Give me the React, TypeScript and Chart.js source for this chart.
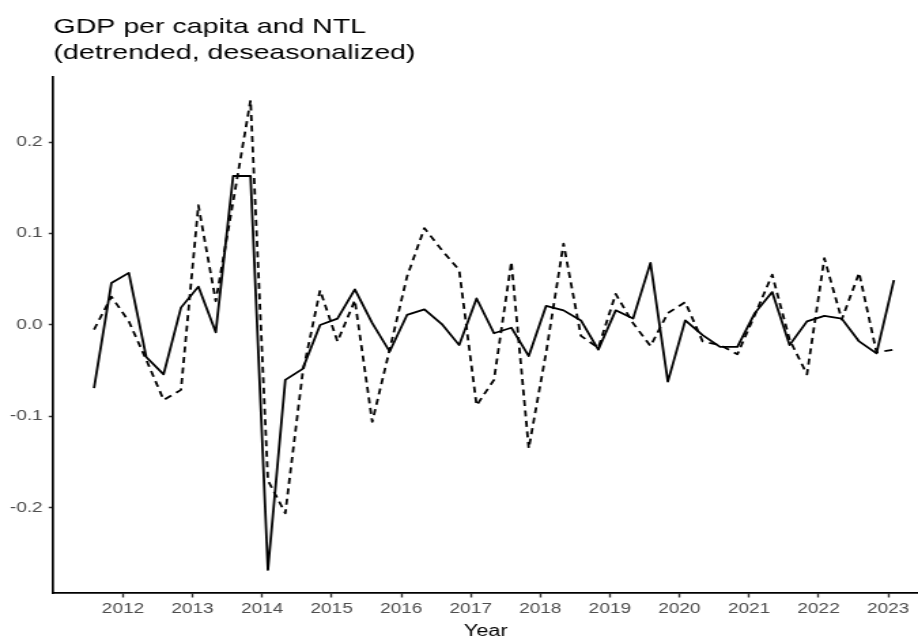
import React, { useEffect, useRef } from 'react';
import { Chart, registerables } from 'chart.js';

Chart.register(...registerables);

// ---- data ----
const DATES: string[] = [
  '2011-08', '2011-11',
  '2012-02', '2012-05', '2012-08', '2012-11',
  '2013-02', '2013-05', '2013-08', '2013-11',
  '2014-02', '2014-05', '2014-08', '2014-11',
  '2015-02', '2015-05', '2015-08', '2015-11',
  '2016-02', '2016-05', '2016-08', '2016-11',
  '2017-02', '2017-05', '2017-08', '2017-11',
  '2018-02', '2018-05', '2018-08', '2018-11',
  '2019-02', '2019-05', '2019-08', '2019-11',
  '2020-02', '2020-05', '2020-08', '2020-11',
  '2021-02', '2021-05', '2021-08', '2021-11',
  '2022-02', '2022-05', '2022-08', '2022-11',
  '2023-02',
];

// solid line
const GDP_PC: number[] = [
  -0.069, 0.046, 0.057, -0.035, -0.054, 0.019, 0.042, -0.008, 0.163, 0.163,
  -0.268, -0.060, -0.048, 0.000, 0.007, 0.039, 0.002, -0.029, 0.011, 0.017,
  0.001, -0.022, 0.029, -0.009, -0.003, -0.034, 0.021, 0.016, 0.005, -0.027,
  0.016, 0.007, 0.068, -0.062, 0.005, -0.011, -0.024, -0.024, 0.013, 0.036,
  -0.022, 0.004, 0.010, 0.007, -0.018, -0.031, 0.049,
];

// dashed line
const NTL: number[] = [
  -0.005, 0.031, 0.004, -0.038, -0.082, -0.071, 0.131, 0.026, 0.135, 0.246,
  -0.170, -0.206, -0.052, 0.038, -0.018, 0.027, -0.106, -0.027, 0.053, 0.106,
  0.082, 0.060, -0.088, -0.060, 0.069, -0.135, -0.030, 0.089, -0.012, -0.025,
  0.034, 0.002, -0.023, 0.013, 0.025, -0.018, -0.022, -0.032, 0.011, 0.055,
  -0.016, -0.054, 0.073, 0.006, 0.057, -0.030, -0.027,
];

const YEAR_TICKS: number[] = [2012, 2013, 2014, 2015, 2016, 2017, 2018, 2019, 2020, 2021, 2022, 2023];
const Y_TICKS: number[] = [-0.2, -0.1, 0.0, 0.1, 0.2];
const TITLE_LINES: string[] = ['GDP per capita and NTL', '(detrended, deseasonalized)'];
const X_TITLE = 'Year';

// ---- layout ----
const SX = 1.36; // horizontal stretch of the reference picture
const OUT_W = 918;
const OUT_H = 641;
const W = Math.round(OUT_W / SX);
const FONT = '"Liberation Sans", Arial, Helvetica, sans-serif';

function toYear(d: string): number {
  const [y, m] = d.split('-').map(Number);
  return y + (m - 1) / 12;
}

const titlePlugin = {
  id: 'multiTitle',
  afterDraw(chart: any) {
    const ctx = chart.ctx as CanvasRenderingContext2D;
    ctx.save();
    ctx.fillStyle = '#000';
    ctx.font = `21px ${FONT}`;
    ctx.textAlign = 'left';
    ctx.textBaseline = 'alphabetic';
    TITLE_LINES.forEach((t, i) => ctx.fillText(t, chart.chartArea.left, 33.3 + i * 26));
    ctx.restore();
  },
};

export default function App() {
  const ref = useRef<HTMLCanvasElement>(null);

  useEffect(() => {
    const canvas = ref.current;
    if (!canvas) return;
    const xs = DATES.map(toYear);
    const chart = new Chart(canvas, {
      type: 'line',
      data: {
        datasets: [
          {
            label: 'GDP per capita',
            data: xs.map((x, i) => ({ x, y: GDP_PC[i] })),
            borderColor: '#000',
            borderWidth: 1.8,
            pointRadius: 0,
            tension: 0,
            fill: false,
            borderJoinStyle: 'round',
          },
          {
            label: 'NTL',
            data: xs.map((x, i) => ({ x, y: NTL[i] })),
            borderColor: '#000',
            borderWidth: 1.8,
            borderDash: [6, 4.5],
            pointRadius: 0,
            tension: 0,
            fill: false,
            borderJoinStyle: 'round',
          },
        ],
      },
      options: {
        animation: false,
        responsive: false,
        devicePixelRatio: 1,
        events: [],
        layout: { padding: { top: 77, left: 0, right: 0, bottom: 0 } },
        plugins: {
          legend: { display: false },
          title: { display: false },
          tooltip: { enabled: false },
        },
        scales: {
          x: {
            type: 'linear',
            min: 2011.0,
            max: 2023.43,
            afterBuildTicks: (s: any) => {
              s.ticks = YEAR_TICKS.map((v) => ({ value: v }));
            },
            afterFit: (s: any) => {
              s.height = 48;
            },
            ticks: {
              callback: (v: any) => String(v),
              color: '#4D4D4D',
              font: { family: FONT, size: 14 },
              padding: 3.4,
              autoSkip: false,
              maxRotation: 0,
            },
            grid: {
              drawOnChartArea: false,
              drawTicks: true,
              tickLength: 4.5,
              tickWidth: 1.4,
              tickColor: '#333',
              color: '#333',
            },
            border: { display: true, color: '#000', width: 1.7 },
            title: {
              display: true,
              text: X_TITLE,
              color: '#000',
              font: { family: FONT, size: 16 },
              padding: { top: 0, bottom: 0 },
            },
          },
          y: {
            type: 'linear',
            min: -0.2932,
            max: 0.2713,
            afterBuildTicks: (s: any) => {
              s.ticks = Y_TICKS.map((v) => ({ value: v }));
            },
            afterFit: (s: any) => {
              s.width = 39.3;
            },
            ticks: {
              callback: (v: any) => Number(v).toFixed(1),
              color: '#4D4D4D',
              font: { family: FONT, size: 14 },
              padding: 4.4,
            },
            grid: {
              drawOnChartArea: false,
              drawTicks: true,
              tickLength: 3.5,
              tickWidth: 1.5,
              tickColor: '#333',
              color: '#333',
            },
            border: { display: true, color: '#000', width: 1.7 },
          },
        },
      },
      plugins: [titlePlugin],
    } as any);
    return () => chart.destroy();
  }, []);

  return (
    <div
      style={{
        position: 'absolute',
        left: 0,
        top: 0,
        width: OUT_W,
        height: OUT_H,
        background: '#fff',
        overflow: 'hidden',
      }}
    >
      <canvas
        ref={ref}
        width={W}
        height={OUT_H}
        style={{ width: `${OUT_W}px`, height: `${OUT_H}px`, display: 'block' }}
      />
    </div>
  );
}
